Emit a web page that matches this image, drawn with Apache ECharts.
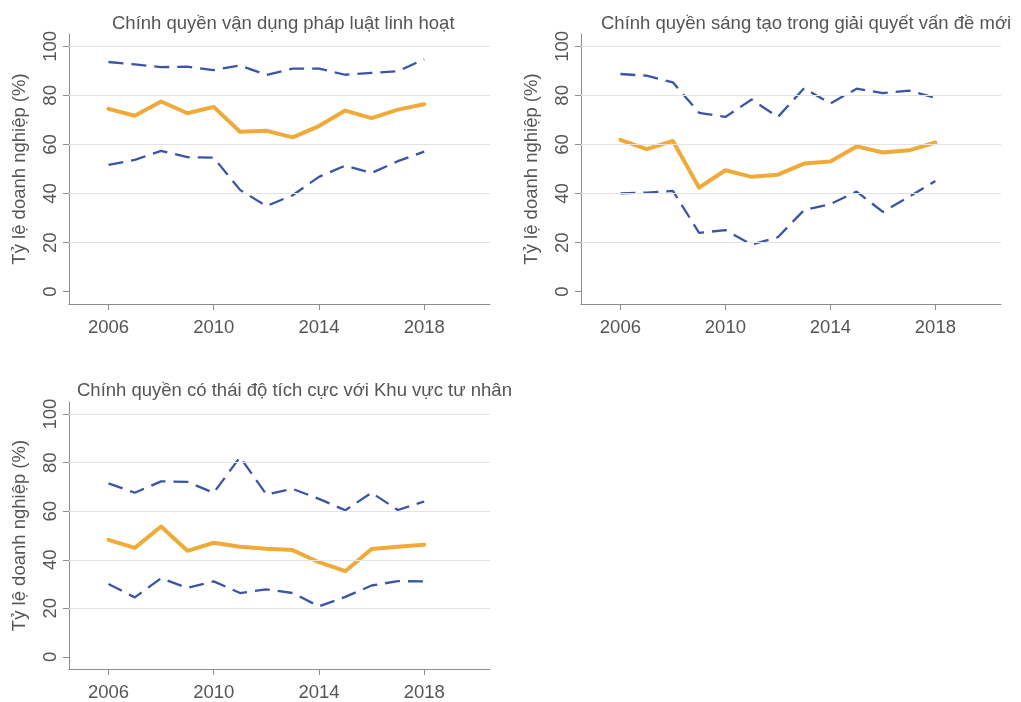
<!DOCTYPE html>
<html>
<head>
<meta charset="utf-8">
<script src="https://cdn.jsdelivr.net/npm/echarts@6/dist/echarts.min.js"></script>
<style>
  html, body { margin: 0; padding: 0; background: #fff; }
  #chart { width: 1021px; height: 702px; }
</style>
</head>
<body>
<div id="chart"></div>
<script>
// du lieu
var years = [2006, 2007, 2008, 2009, 2010, 2011, 2012, 2013, 2014, 2015, 2016, 2017, 2018];
var titles = [
    'Chính quyền vận dụng pháp luật linh hoạt',
    'Chính quyền sáng tạo trong giải quyết vấn đề mới',
    'Chính quyền có thái độ tích cực với Khu vực tư nhân'
];
var xTicks = [2006, 2010, 2014, 2018];
var yTicks = [0, 20, 40, 60, 80, 100];
var gridValues = [20, 40, 60, 80, 100];

var mean1  = [74.5, 71.7, 77.5, 72.7, 75.3, 65.2, 65.6, 62.9, 67.5, 73.8, 70.7, 74.2, 76.4];
var upper1 = [93.6, 92.6, 91.5, 91.7, 90.3, 92.2, 88.3, 90.9, 90.9, 88.4, 89.2, 89.8, 94.7];
var lower1 = [51.7, 53.7, 57.4, 54.8, 54.6, 41.5, 34.9, 39.3, 46.8, 51.4, 48.4, 53.2, 57.1];

var mean2  = [61.9, 58.1, 61.4, 42.4, 49.5, 46.8, 47.7, 52.2, 53.1, 59.2, 56.7, 57.6, 60.8];
var upper2 = [88.7, 88.0, 85.3, 72.9, 71.2, 78.3, 71.2, 82.9, 76.7, 82.7, 80.9, 81.9, 79.0];
var lower2 = [40.1, 40.4, 41.1, 24.0, 25.1, 19.2, 22.2, 33.3, 35.7, 40.8, 32.5, 38.7, 45.1];

var mean3  = [48.2, 44.9, 53.7, 43.7, 47.0, 45.4, 44.5, 44.0, 39.0, 35.3, 44.4, 45.4, 46.2];
var upper3 = [71.5, 67.6, 72.3, 72.1, 67.6, 82.3, 66.9, 69.2, 65.1, 60.4, 67.6, 60.5, 64.0];
var lower3 = [30.0, 24.5, 32.4, 28.4, 31.1, 26.3, 27.8, 26.3, 20.8, 24.7, 29.4, 31.2, 31.1];

var panels = [
    { mean: mean1, upper: upper1, lower: lower1 },
    { mean: mean2, upper: upper2, lower: lower2 },
    { mean: mean3, upper: upper3, lower: lower3 }
];

var textColor = '#555';
var axisColor = '#8c8c8c';
var font = 'Liberation Sans, Arial, sans-serif';
var fs = 18.5;

var grids = [
    { left: 69, top: 34, width: 421, height: 270 },
    { left: 581, top: 34, width: 420, height: 270 },
    { left: 69, top: 402, width: 421, height: 270 }
];
var titlePos = [
    { left: 107, top: 9 },
    { left: 596, top: 9 },
    { left: 72, top: 376 }
];

function pairs(vals) {
    return years.map(function (y, i) { return [y, vals[i]]; });
}

var xAxes = [], yAxes = [], series = [], titleList = [];
grids.forEach(function (g, k) {
    titleList.push({
        text: titles[k],
        left: titlePos[k].left,
        top: titlePos[k].top,
        textStyle: { color: textColor, fontSize: fs, fontWeight: 'normal', fontFamily: font }
    });
    xAxes.push({
        type: 'value', gridIndex: k, min: 2004.5, max: 2020.5,
        axisLine: { show: true, onZero: false, lineStyle: { color: axisColor, width: 1 } },
        axisTick: { show: true, length: 6, customValues: xTicks, lineStyle: { color: axisColor } },
        axisLabel: {
            customValues: xTicks, color: textColor, fontSize: fs, fontFamily: font, margin: 14,
            formatter: function (v) { return String(v); }
        },
        splitLine: { show: false }
    });
    yAxes.push({
        type: 'value', gridIndex: k, min: -5, max: 105,
        name: 'Tỷ lệ doanh nghiệp (%)',
        nameLocation: 'middle', nameGap: 40, nameRotate: 90,
        nameTextStyle: { color: textColor, fontSize: fs, fontFamily: font },
        axisLine: { show: true, onZero: false, lineStyle: { color: axisColor, width: 1 } },
        axisTick: { show: true, length: 6, customValues: yTicks, lineStyle: { color: axisColor } },
        axisLabel: { customValues: yTicks, rotate: 90, color: textColor, fontSize: fs, fontFamily: font, margin: 9 },
        splitLine: { show: false }
    });
    // duong luoi ngang (khong co o muc 0)
    series.push({
        type: 'line', xAxisIndex: k, yAxisIndex: k, data: [], z: 1, silent: true,
        markLine: {
            silent: true, symbol: 'none', label: { show: false },
            lineStyle: { color: '#e3e3e3', width: 1, type: 'solid' },
            data: gridValues.map(function (v) { return { yAxis: v }; })
        }
    });
    var p = panels[k];
    series.push({
        type: 'line', xAxisIndex: k, yAxisIndex: k, data: pairs(p.upper),
        symbol: 'none', silent: true, z: 3,
        lineStyle: { color: '#3a55a6', width: 2.3, type: [15, 8] }
    });
    series.push({
        type: 'line', xAxisIndex: k, yAxisIndex: k, data: pairs(p.lower),
        symbol: 'none', silent: true, z: 3,
        lineStyle: { color: '#3a55a6', width: 2.3, type: [15, 8] }
    });
    series.push({
        type: 'line', xAxisIndex: k, yAxisIndex: k, data: pairs(p.mean),
        symbol: 'none', silent: true, z: 4,
        lineStyle: { color: '#f0aa38', width: 4, cap: 'round', join: 'round' }
    });
});

var myChart = echarts.init(document.getElementById('chart'));
myChart.setOption({
    animation: false,
    backgroundColor: '#fff',
    title: titleList,
    grid: grids,
    xAxis: xAxes,
    yAxis: yAxes,
    series: series
});
</script>
</body>
</html>
